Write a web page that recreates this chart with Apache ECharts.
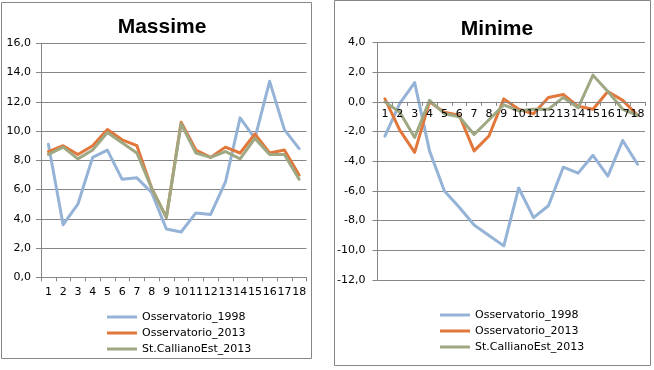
<!DOCTYPE html>
<html>
<head>
<meta charset="utf-8">
<script src="https://cdn.jsdelivr.net/npm/echarts@6/dist/echarts.min.js"></script>
<style>html,body{margin:0;padding:0;background:#fff;}#c{width:654px;height:370px;}</style>
</head>
<body>
<div id="c"></div>
<script>
const categories = ['1','2','3','4','5','6','7','8','9','10','11','12','13','14','15','16','17','18'];
const seriesNames = ['Osservatorio_1998','Osservatorio_2013','St.CallianoEst_2013'];
const maxOss1998 = [9.1,3.6,5.0,8.2,8.7,6.7,6.8,5.8,3.3,3.1,4.4,4.3,6.5,10.9,9.5,13.4,10.1,8.8];
const maxOss2013 = [8.6,9.0,8.4,9.0,10.1,9.4,9.0,6.1,4.1,10.6,8.7,8.2,8.9,8.5,9.8,8.5,8.7,7.0];
const maxCall2013 = [8.4,8.9,8.1,8.7,9.9,9.2,8.5,6.1,4.1,10.5,8.5,8.2,8.6,8.1,9.5,8.4,8.4,6.7];
const minOss1998 = [-2.3,-0.1,1.3,-3.3,-6.0,-7.1,-8.3,-9.0,-9.7,-5.8,-7.8,-7.0,-4.4,-4.8,-3.6,-5.0,-2.6,-4.2];
const minOss2013 = [0.2,-1.9,-3.4,0.0,-0.7,-0.9,-3.3,-2.3,0.2,-0.5,-0.8,0.3,0.5,-0.3,-0.5,0.7,0.1,-0.9];
const minCall2013 = [0.0,-0.7,-2.4,0.1,-0.8,-1.0,-2.2,-1.2,-0.2,-0.6,-0.5,-0.5,0.3,-0.4,1.8,0.7,-0.5,-0.9];
const titles = ['Massime','Minime'];

const colors = ['#95B3D7','#E2773C','#9EA882'];
const gridColor = '#868686';
const FONT = 'DejaVu Sans';
const fmt = v => v.toFixed(1).replace('.', ',');

function xAxis(gi, offset, margin, z){
  return {
    type:'category', gridIndex:gi, data:categories, boundaryGap:true,
    position:'bottom', offset:offset, z:z,
    axisLine:{show:true, onZero:false, lineStyle:{color:gridColor,width:1}},
    axisTick:{show:true, length:4, lineStyle:{color:gridColor}},
    axisLabel:{show:true, interval:0, margin:margin, color:'#000', fontFamily:FONT, fontSize:11},
    splitLine:{show:false}
  };
}
function yAxis(gi,min,max,margin){
  return {
    type:'value', gridIndex:gi, min:min, max:max, interval:2,
    axisLine:{show:true, lineStyle:{color:gridColor,width:1}},
    axisTick:{show:true, length:5, lineStyle:{color:gridColor}},
    axisLabel:{margin:margin, color:'#000', fontFamily:FONT, fontSize:11, formatter:fmt},
    splitLine:{show:true, lineStyle:{color:gridColor,width:1}}
  };
}
function line(name, data, idx, gi){
  return {
    type:'line', name:name, data:data, xAxisIndex:gi, yAxisIndex:gi,
    symbol:'none', smooth:false, color:colors[idx],
    lineStyle:{width:3, color:colors[idx], join:'round', cap:'round'},
    emphasis:{disabled:true}, animation:false, z:2+idx
  };
}
function legend(left, top){
  return {
    orient:'vertical', left:left, top:top, itemWidth:30, itemHeight:3, itemGap:2,
    icon:'rect', data:seriesNames,
    textStyle:{color:'#000', fontFamily:FONT, fontSize:11, lineHeight:14}
  };
}

// right grid geometry: zero line offset from bottom
const rTop = 42.5, rH = 237.5, rMin = -12, rMax = 4;
const zeroOffset = -(rH * (0 - rMin) / (rMax - rMin));

const chart = echarts.init(document.getElementById('c'), null, {renderer:'canvas'});
chart.setOption({
  animation:false,
  backgroundColor:'#fff',
  title:[
    {text:titles[0], left:157, top:12, textAlign:'center', textStyle:{fontFamily:'Liberation Sans', fontWeight:'bold', fontSize:21, color:'#000'}},
    {text:titles[1], left:492, top:14, textAlign:'center', textStyle:{fontFamily:'Liberation Sans', fontWeight:'bold', fontSize:21, color:'#000'}}
  ],
  grid:[
    {left:41, top:43.3, width:265.5, height:234},
    {left:377.5, top:rTop, width:267.5, height:rH}
  ],
  xAxis:[xAxis(0, 0, 9, 0), xAxis(1, zeroOffset, 7, 10)],
  yAxis:[yAxis(0,0,16,10), yAxis(1,rMin,rMax,12)],
  legend:[legend(102, 305), legend(435, 303)],
  series:[
    line(seriesNames[0], maxOss1998, 0, 0),
    line(seriesNames[1], maxOss2013, 1, 0),
    line(seriesNames[2], maxCall2013, 2, 0),
    line(seriesNames[0], minOss1998, 0, 1),
    line(seriesNames[1], minOss2013, 1, 1),
    line(seriesNames[2], minCall2013, 2, 1)
  ],
  graphic:[
    {type:'rect', shape:{x:1.5, y:2.5, width:310, height:356}, style:{fill:'none', stroke:gridColor, lineWidth:1}, silent:true},
    {type:'rect', shape:{x:334.5, y:0.5, width:316, height:365}, style:{fill:'none', stroke:gridColor, lineWidth:1}, silent:true}
  ]
});
</script>
</body>
</html>
